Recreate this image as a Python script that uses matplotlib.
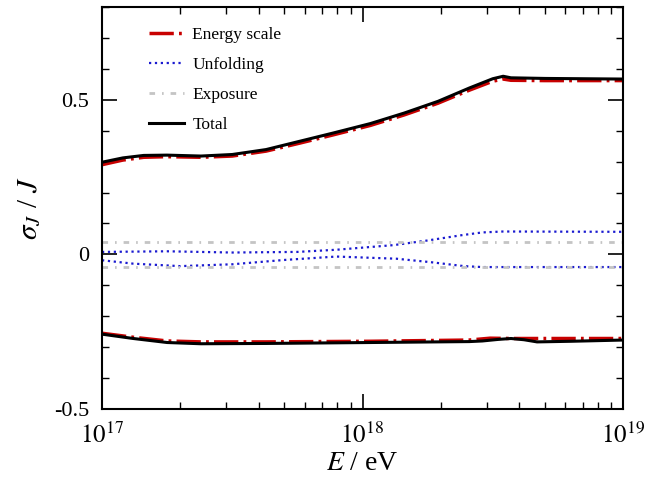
import matplotlib
matplotlib.use('Agg')
import matplotlib.pyplot as plt
import numpy as np

plt.rcParams['font.family'] = ['Liberation Serif', 'DejaVu Serif']
plt.rcParams['mathtext.fontset'] = 'stix'
plt.rcParams['axes.unicode_minus'] = False

# log10(E/eV) and sigma_J / J
lg_up = [17.0, 17.08, 17.16, 17.25, 17.38, 17.50, 17.63, 17.76, 17.89, 18.03,
         18.16, 18.29, 18.41, 18.50, 18.54, 18.57, 18.7, 19.0]
total_up = [0.298, 0.312, 0.320, 0.321, 0.318, 0.323, 0.339, 0.366, 0.393, 0.423,
            0.457, 0.495, 0.538, 0.568, 0.576, 0.571, 0.569, 0.567]
escale_up = [0.290, 0.305, 0.314, 0.316, 0.314, 0.318, 0.334, 0.360, 0.387, 0.417,
             0.451, 0.489, 0.531, 0.560, 0.567, 0.563, 0.562, 0.562]

lg_tot_lo = [17.0, 17.12, 17.25, 17.38, 17.63, 18.03, 18.41, 18.46, 18.52, 18.57,
             18.62, 18.67, 18.8, 19.0]
total_lo = [-0.258, -0.272, -0.285, -0.289, -0.288, -0.285, -0.282, -0.280, -0.275,
            -0.272, -0.276, -0.283, -0.281, -0.277]
lg_es_lo = [17.0, 17.12, 17.25, 17.38, 17.63, 18.03, 18.41, 18.49, 18.57, 19.0]
escale_lo = [-0.255, -0.268, -0.280, -0.283, -0.283, -0.281, -0.277, -0.271, -0.272, -0.272]

lg_unf_up = [17.0, 17.25, 17.5, 17.75, 17.9, 18.12, 18.25, 18.38, 18.46, 18.54, 19.0]
unf_up = [0.008, 0.010, 0.006, 0.008, 0.015, 0.030, 0.045, 0.062, 0.071, 0.074, 0.073]
lg_unf_lo = [17.0, 17.12, 17.3, 17.5, 17.7, 17.9, 18.13, 18.26, 18.39, 18.46, 19.0]
unf_lo = [-0.019, -0.030, -0.038, -0.032, -0.018, -0.007, -0.014, -0.025, -0.038, -0.041, -0.041]

lg_exp = [17.0, 19.0]
exp_up = [0.041, 0.041]
exp_lo = [-0.040, -0.040]

fig = plt.figure(figsize=(6.59, 4.84), dpi=100)
ax = fig.add_axes([102/659, 1-409/484, 521/659, 402/484])

red = '#c80000'
blue = '#1a1ad0'
grey = '#c4c4c4'

E = lambda lg: 10**np.array(lg)

ax.plot(E(lg_up), escale_up, color=red, lw=2.5, dashes=(7, 1.5, 0.8, 1.5), label='Energy scale')
ax.plot(E(lg_es_lo), escale_lo, color=red, lw=2.5, dashes=(7, 1.5, 0.8, 1.5))
ax.plot(E(lg_unf_up), unf_up, color=blue, lw=1.6, ls=':', label='Unfolding')
ax.plot(E(lg_unf_lo), unf_lo, color=blue, lw=1.6, ls=':')
ax.plot(E(lg_exp), exp_up, color=grey, lw=2, dashes=(2, 2.5, 0.6, 2.5), label='Exposure')
ax.plot(E(lg_exp), exp_lo, color=grey, lw=2, dashes=(2, 2.5, 0.6, 2.5))
ax.plot(E(lg_up), total_up, color='black', lw=2.2, label='Total')
ax.plot(E(lg_tot_lo), total_lo, color='black', lw=2.2)

ax.set_xscale('log')
ax.set_xlim(1e17, 1e19)
ax.set_ylim(-0.5, 0.8)
ax.set_xticks([1e17, 1e18, 1e19])
ax.set_xticklabels([r'$10^{17}$', r'$10^{18}$', r'$10^{19}$'])
ax.set_yticks([-0.5, 0, 0.5])
ax.set_yticklabels(['-0.5', '0', '0.5'])
ax.set_yticks(np.arange(-0.5, 0.81, 0.1), minor=True)

ax.tick_params(which='both', direction='in', top=True, right=True, labelsize=16)
ax.tick_params(which='major', length=11, width=1.2, pad=9)
ax.tick_params(axis='x', which='major', labelsize=18, pad=10)
ax.tick_params(which='minor', length=5, width=1.0)
for s in ax.spines.values():
    s.set_linewidth(1.5)

ax.set_xlabel(r'$E$ / eV', fontsize=20, labelpad=2)
ax.set_ylabel(r'$\sigma_J$ / $J$', fontsize=21, labelpad=8)

ax.legend(loc='upper left', bbox_to_anchor=(0.06, 0.99), frameon=False,
          fontsize=12.5, handlelength=2.0, labelspacing=0.8, handletextpad=0.5)

fig.savefig('out.png', dpi=100)
